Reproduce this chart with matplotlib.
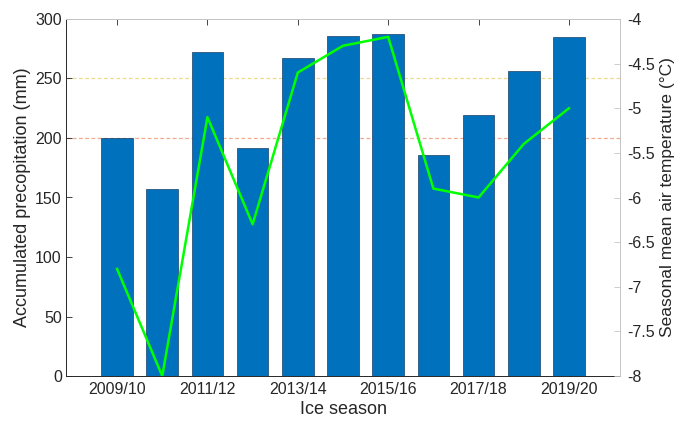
import matplotlib
matplotlib.use("Agg")
import matplotlib.pyplot as plt
import numpy as np

plt.rcParams["font.family"] = ["Liberation Sans", "DejaVu Sans"]

SEASONS = ["2009/10", "2010/11", "2011/12", "2012/13", "2013/14", "2014/15",
           "2015/16", "2016/17", "2017/18", "2018/19", "2019/20"]
PRECIP = [200, 157, 272, 192, 267, 286, 287, 186, 219, 256, 285]          # mm
TEMP = [-6.8, -8.0, -5.1, -6.3, -4.6, -4.3, -4.2, -5.9, -6.0, -5.4, -5.0]  # °C
REF_LEVELS = [250, 200]                                                   # mm
REF_COLORS = ["#eedc8a", "#f2a98e"]

DARK = "#262626"
LIGHT = "#c4c4c4"

x = np.arange(1, len(SEASONS) + 1)

fig = plt.figure(figsize=(6.77, 4.23), dpi=100)
ax = fig.add_axes([66 / 677, 47 / 423, 554 / 677, 357 / 423])

for lvl, col in zip(REF_LEVELS, REF_COLORS):
    ax.axhline(lvl, color=col, lw=0.9, ls=(0, (3, 2)), zorder=1)
ax.bar(x, PRECIP, width=0.7, color="#0072bd", edgecolor="#1a3f66", lw=0.5, zorder=2)

ax.set_xlim(-0.13, 12.13)
ax.set_ylim(0, 300)
ax.set_yticks(range(0, 301, 50))
ax.set_xticks(x[::2])
ax.set_xticklabels(SEASONS[::2])
ax.set_xlabel("Ice season", fontsize=13, color=DARK, labelpad=3)
ax.set_ylabel("Accumulated precopitation (mm)", fontsize=13, color=DARK, labelpad=3)
ax.tick_params(labelsize=11.5, colors=DARK, direction="in", length=4, width=0.6,
               pad=4)
ax.tick_params(axis="y", pad=3)
ax.tick_params(axis="x", top=True)
ax.tick_params(axis="y", right=False)
ax.spines["left"].set_color(DARK)
ax.spines["bottom"].set_color(DARK)
ax.spines["top"].set_color(LIGHT)
ax.spines["right"].set_visible(False)
for s in ax.spines.values():
    s.set_linewidth(0.7)

ax2 = ax.twinx()
ax2.plot(x, TEMP, color="#00ff00", lw=1.8, zorder=3)
ax2.set_ylim(-8, -4)
temp_ticks = np.arange(-8, -3.9, 0.5)
ax2.set_yticks(temp_ticks)
ax2.set_yticklabels([f"{v:g}" for v in temp_ticks])
ax2.set_ylabel("Seasonal mean air temperature (\u00b0C)", fontsize=12.5, color=DARK)
ax2.yaxis.set_label_coords(1.0 + 40 / 554, 0.5)
ax2.tick_params(labelsize=11.5, labelcolor=DARK, color=LIGHT, direction="in",
                length=4, width=0.6, pad=5)
for name, s in ax2.spines.items():
    s.set_visible(name == "right")
    s.set_color(LIGHT)
    s.set_linewidth(0.7)

fig.savefig("out.png", dpi=100)
